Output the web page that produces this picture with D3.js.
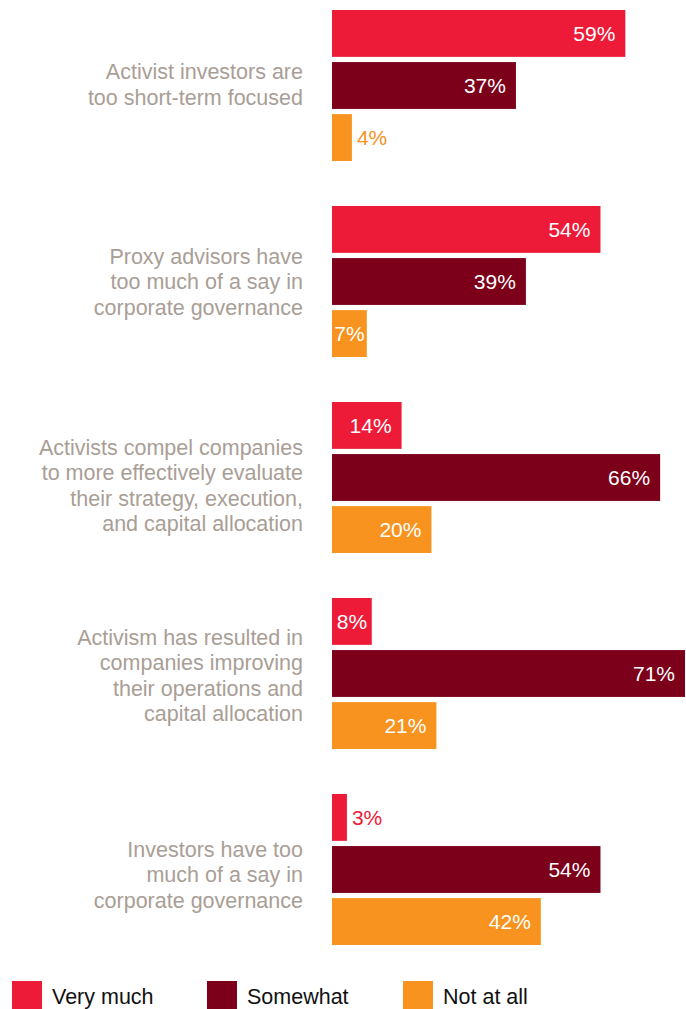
<!DOCTYPE html>
<html>
<head>
<meta charset="utf-8">
<script src="https://cdn.jsdelivr.net/npm/d3@7/dist/d3.min.js"></script>
<style>
  html, body { margin: 0; padding: 0; background: #fff; }
  svg { display: block; }
  text { font-family: "Liberation Sans", Arial, Helvetica, sans-serif; }
</style>
</head>
<body>
<svg id="chart" width="686" height="1009"></svg>
<script>
const categories = [
  ["Activist investors are", "too short-term focused"],
  ["Proxy advisors have", "too much of a say in", "corporate governance"],
  ["Activists compel companies", "to more effectively evaluate", "their strategy, execution,", "and capital allocation"],
  ["Activism has resulted in", "companies improving", "their operations and", "capital allocation"],
  ["Investors have too", "much of a say in", "corporate governance"]
];
const seriesNames = ["Very much", "Somewhat", "Not at all"];
const veryMuch = [59, 54, 14, 8, 3];
const somewhat = [37, 39, 66, 71, 54];
const notAtAll = [4, 7, 20, 21, 42];
const colors = ["#ED1B38", "#7D001A", "#F7931E"];

// layout-only tweaks for label block vertical placement (px)
const labelShift = [-1, 0, 8, 2, 5];

const values = [veryMuch, somewhat, notAtAll];
const svg = d3.select("#chart");

const x = d3.scaleLinear().domain([0, 71]).range([332, 685]);
const yGroup = d3.scaleBand().domain(d3.range(categories.length)).range([10, 945]).paddingInner(0.2296).paddingOuter(0);
const yBar = d3.scaleBand().domain(seriesNames).range([0, yGroup.bandwidth()]).paddingInner(0.1).paddingOuter(0);
const color = d3.scaleOrdinal().domain(seriesNames).range(colors);

const groups = svg.selectAll("g.group").data(categories).join("g")
  .attr("class", "group")
  .attr("transform", (d, i) => `translate(0,${yGroup(i)})`);

groups.each(function(lines, gi) {
  const g = d3.select(this);
  const lh = 25.5;
  const cy = yGroup.bandwidth() / 2 + labelShift[gi];
  const start = cy - (lines.length - 1) * lh / 2;
  g.selectAll("text.cat").data(lines).join("text")
    .attr("class", "cat")
    .attr("x", 303)
    .attr("y", (d, i) => start + i * lh)
    .attr("dy", "0.35em")
    .attr("text-anchor", "end")
    .attr("fill", "#A99E96")
    .attr("font-size", 21.5)
    .text(d => d);

  const rows = seriesNames.map((s, si) => ({ s, v: values[si][gi] }));
  g.selectAll("rect").data(rows).join("rect")
    .attr("x", x(0))
    .attr("y", d => yBar(d.s))
    .attr("width", d => x(d.v) - x(0))
    .attr("height", yBar.bandwidth())
    .attr("fill", d => color(d.s));

  g.selectAll("text.val").data(rows).join("text")
    .attr("class", "val")
    .attr("y", d => yBar(d.s) + yBar.bandwidth() / 2)
    .attr("dy", "0.35em")
    .attr("font-size", 21)
    .text(d => d.v + "%")
    .each(function(d) {
      const t = d3.select(this);
      const w = this.getComputedTextLength();
      const bw = x(d.v) - x(0);
      if (d.v < 5) {
        t.attr("x", x(d.v) + 5).attr("text-anchor", "start").attr("fill", color(d.s));
      } else if (w + 20 <= bw) {
        t.attr("x", x(d.v) - 10).attr("text-anchor", "end").attr("fill", "#fff");
      } else {
        t.attr("x", (x(0) + x(d.v)) / 2).attr("text-anchor", "middle").attr("fill", "#fff");
      }
    });
});

// legend
const legendX = [12, 207, 403];
const legend = svg.selectAll("g.legend").data(seriesNames).join("g")
  .attr("class", "legend")
  .attr("transform", (d, i) => `translate(${legendX[i]},981)`);
legend.append("rect").attr("width", 30).attr("height", 28).attr("fill", d => color(d));
legend.append("text").attr("x", 40).attr("y", 23).attr("font-size", 21.5).attr("fill", "#111").text(d => d);
</script>
</body>
</html>
